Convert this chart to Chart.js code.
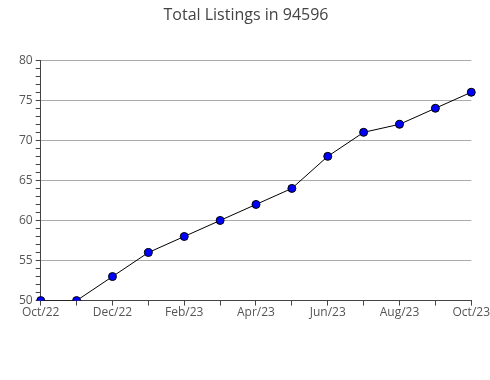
<!DOCTYPE html>
<html>
<head>
<meta charset="utf-8">
<script src="https://cdn.jsdelivr.net/npm/chart.js@4/dist/chart.umd.min.js"></script>
<style>
  html, body { margin: 0; padding: 0; background: #fff; }
  #wrap { width: 490px; height: 380px; }
</style>
</head>
<body>
<div id="wrap"><canvas id="listingsChart" width="490" height="380"></canvas></div>
<script>
// data
const months = ['Oct/22', 'Nov/22', 'Dec/22', 'Jan/23', 'Feb/23', 'Mar/23', 'Apr/23',
                'May/23', 'Jun/23', 'Jul/23', 'Aug/23', 'Sep/23', 'Oct/23'];
const listings = [50, 50, 53, 56, 58, 60, 62, 64, 68, 71, 72, 74, 76];
const yMin = 50;
const yMax = 80;

const fontFamily = "'Open Sans', 'Noto Sans', sans-serif";
const textColor = '#555';

new Chart(document.getElementById('listingsChart'), {
    type: 'line',
    data: {
        labels: months,
        datasets: [{
            label: 'Total Listings',
            data: listings,
            borderColor: '#000',
            borderWidth: 1,
            backgroundColor: '#0000ff',
            pointBackgroundColor: '#0000ff',
            pointBorderColor: '#000',
            pointBorderWidth: 1,
            pointRadius: 4,
            tension: 0,
            fill: false
        }]
    },
    options: {
        responsive: false,
        animation: false,
        layout: { padding: { left: 16, right: 14, top: 0, bottom: 60 } },
        plugins: {
            legend: { display: false },
            tooltip: { enabled: false },
            title: {
                display: true,
                text: 'Total Listings in 94596',
                color: '#444',
                font: { family: fontFamily, size: 16, weight: 'normal' },
                padding: { top: 6, bottom: 35 }
            }
        },
        scales: {
            x: {
                offset: false,
                border: { color: '#444', width: 1 },
                grid: {
                    drawOnChartArea: false,
                    tickLength: 5,
                    tickColor: '#444'
                },
                ticks: {
                    autoSkip: false,
                    maxRotation: 0,
                    color: textColor,
                    font: { family: fontFamily, size: 12 },
                    padding: 0,
                    callback: function(value, index) {
                        return index % 2 === 0 ? months[index] : '';
                    }
                }
            },
            y: {
                min: yMin,
                max: yMax,
                border: { color: '#444', width: 1 },
                grid: {
                    tickLength: 5,
                    tickColor: '#444',
                    color: function(ctx) {
                        const v = ctx.tick ? ctx.tick.value : null;
                        if (v === yMin) return 'transparent';
                        return v % 5 === 0 ? '#aaa' : 'transparent';
                    }
                },
                ticks: {
                    stepSize: 1,
                    autoSkip: false,
                    color: textColor,
                    font: { family: fontFamily, size: 12 },
                    padding: 3,
                    callback: function(value) {
                        return value % 5 === 0 ? value : '';
                    }
                }
            }
        }
    }
});
</script>
</body>
</html>
